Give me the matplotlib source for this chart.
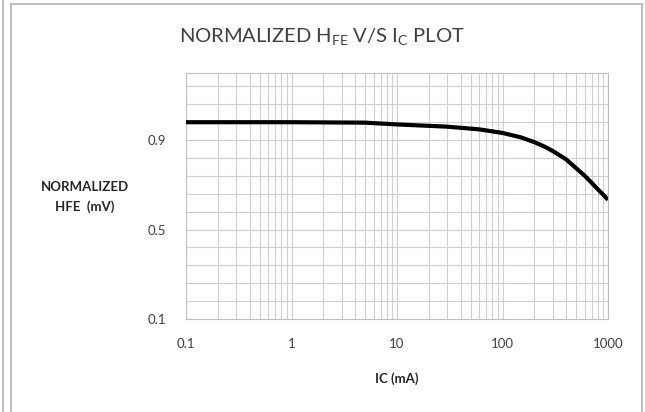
import matplotlib
matplotlib.use("Agg")
import matplotlib.pyplot as plt
from matplotlib.lines import Line2D
from matplotlib.ticker import FixedLocator, NullFormatter
import numpy as np

# ---- data ----
ic_ma = [0.1, 1, 5, 10, 30, 60, 100, 150, 200, 250, 300, 400, 500, 600, 700, 800, 900, 1000]
hfe_norm = [0.98, 0.98, 0.978, 0.97, 0.96, 0.948, 0.932, 0.912, 0.891, 0.871, 0.851,
            0.814, 0.774, 0.741, 0.709, 0.680, 0.656, 0.633]
x_ticks = [0.1, 1, 10, 100, 1000]
x_tick_labels = ["0.1", "1", "10", "100", "1000"]
y_ticks = [0.1, 0.5, 0.9]
y_tick_labels = ["0.1", "0.5", "0.9"]

FONT = ["Lato", "DejaVu Sans"]
plt.rcParams['font.family'] = FONT
plt.rcParams['mathtext.fontset'] = 'custom'
plt.rcParams['mathtext.rm'] = 'Lato'

W, H = 645, 412
fig = plt.figure(figsize=(W / 100, H / 100), dpi=100)
fig.patch.set_facecolor("white")

left, right, top, bottom = 186, 608, 73, 319
ax = fig.add_axes([left / W, 1 - bottom / H, (right - left) / W, (bottom - top) / H])

ax.set_xscale("log")
ax.set_xlim(0.1, 1000)
ax.set_ylim(0.1, 1.2)

grid_c = "#d0d0d0"
minor_x = [m * 10.0 ** e for e in range(-1, 3) for m in range(2, 10)]
for xv in x_ticks + minor_x:
    ax.axvline(xv, color=grid_c, lw=0.8, zorder=1)
for yv in np.arange(0.1, 1.2, 0.08):
    ax.axhline(yv, color=grid_c, lw=0.8, zorder=1)

ax.plot(ic_ma, hfe_norm, color="black", lw=3.0, solid_capstyle="butt",
        solid_joinstyle="round", zorder=3)

ax.xaxis.set_major_locator(FixedLocator(x_ticks))
ax.xaxis.set_minor_locator(FixedLocator(minor_x))
ax.xaxis.set_minor_formatter(NullFormatter())
ax.set_xticklabels(x_tick_labels)
ax.set_yticks(y_ticks)
ax.set_yticklabels(y_tick_labels)
ax.tick_params(axis="both", which="both", length=0, labelsize=9.5, colors="#404040")
ax.tick_params(axis="x", pad=14)
ax.tick_params(axis="y", pad=14)

for s in ax.spines.values():
    s.set_color("#bfbfbf")
    s.set_linewidth(0.8)

ax.set_xlabel("IC (mA)", fontsize=9.5, fontweight="bold", color="#262626", labelpad=16)

fig.text(85 / W, 1 - 197 / H, "NORMALIZED\nHFE  (mV)", ha="center", va="center",
         fontsize=9.5, fontweight="bold", color="#262626", linespacing=1.6)

fig.text(322 / W, 1 - 37 / H,
         r"NORMALIZED H$_{\mathrm{FE}}$ V/S I$_{\mathrm{C}}$ PLOT",
         ha="center", va="center", fontsize=14.5, color="#404040")

fc = "#b4b4b4"
def px_line(x0, y0, x1, y1):
    fig.add_artist(Line2D([x0 / W, x1 / W], [1 - y0 / H, 1 - y1 / H],
                          transform=fig.transFigure, color=fc, lw=1.2))
px_line(3, 0, 3, H)
px_line(11, 4, 11, H)
px_line(11, 4, 642, 4)
px_line(642, 4, 642, H)

fig.savefig("out.png", dpi=100, facecolor="white")
